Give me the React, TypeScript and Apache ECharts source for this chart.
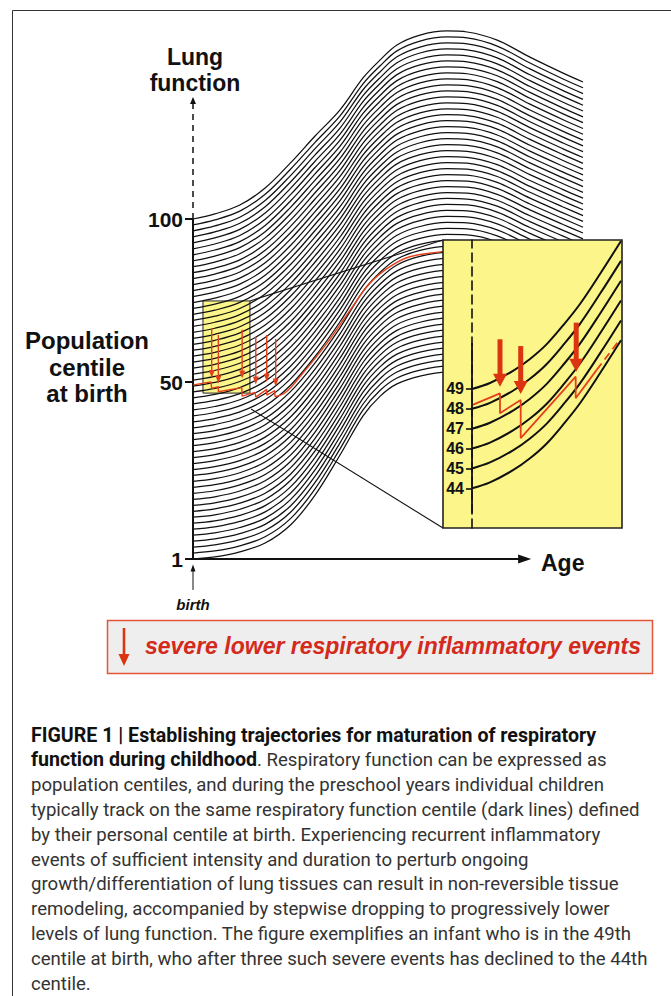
import React, { useEffect, useRef } from 'react';
import * as echarts from 'echarts';

// ---------------- data ----------------
// main chart: x = age (0..100), y = lung function (arbitrary units; 1st centile at birth = 0, 100th = 100)
const curveAges = [0, 5.6, 12, 18.5, 25, 31.3, 37.7, 43.6, 48, 52.3, 58.2, 65.1, 70.3, 78, 86.4, 94.9, 100];
const topCentileCurve = [100, 101.5, 104.1, 109.1, 116.5, 124.4, 132.1, 141.5, 146.8, 151.2, 154.1, 155.3, 155.0, 152.6, 147.6, 142.9, 140.3];
const bottomCentileCurve = [0, 0.6, 2.1, 4.7, 10, 18.8, 30.6, 42.1, 47.9, 51.5, 53.8, 55.0, 55.0, 53.2, 49.1, 45.3, 42.9];
const centileLineCount = 58;

const birthTickValues = [0, 52, 100];
const birthTickLabels = ['1', '50', '100'];

// individual trajectory (red)
const zigzagPath = [
  [0.1, 51.2], [4.6, 52.1], [4.8, 50.2], [6.5, 50.7], [6.5, 49.2], [12.5, 50.4], [12.6, 47.9],
  [15.9, 49.0], [16.1, 47.6], [18.9, 49.9], [18.9, 48.2], [21.0, 49.5], [21.0, 47.8],
];
const recoveryPath = [
  [21.0, 47.8], [23.6, 48.9], [27.4, 53.6], [34.3, 63.4], [40.3, 73.2], [45.4, 81.2],
  [50.5, 86.0], [55.6, 88.9], [63.8, 90.4], [66, 90.9],
];
const eventArrowAges = [4.8, 6.5, 12.6, 16.1, 18.9, 21.2];
const eventArrowTops = [67.9, 65.9, 67.4, 65.3, 65.9, 64.7];
const eventArrowTips = [53.2, 51.6, 53.1, 51.3, 52.1, 50.7];

const zoomBox = [2.56, 75.9, 14.6, 48.8];
const zoomLinks = [
  [14.6, 75.9, 64.1, 93.8],
  [14.9, 44.1, 64.1, 9.1],
];

const yAxisSolid = [[0, 0], [0, 100]];
const yAxisArrow = [0, 100, 0, 135.9];
const xAxisArrow = [0, 0, 86.7, 0];
const birthArrow = [0, -9.1, 0, -1.6];

// inset: x = age offset from its axis, y = centile
const insetFrame = [-29, 42, 150, 56.5];
const insetAges = [0, 18, 41, 58, 75, 93, 108, 128, 149];
const insetRise = [0, 0.3, 0.91, 1.51, 2.27, 3.32, 4.28, 5.79, 7.45];
const insetCentiles = [44, 45, 46, 47, 48, 49];
const insetPath = [
  [0, 48.19], [28, 48.78], [28, 47.78], [48.7, 48.45], [48.7, 46.52],
  [103.7, 49.62], [103.7, 48.53], [124.7, 49.96],
];
const insetPathDashed = [[124.7, 49.96], [148, 51.5]];
const insetArrows = [
  [28, 51.5, 28, 49.11],
  [48.7, 51.16, 48.7, 48.75],
  [104.2, 52.34, 104.2, 49.87],
];
const insetAxisSolid = [[0, 42.76], [0, 51.32]];

const captionLines = [
  '{b|FIGURE 1 | Establishing trajectories for maturation of respiratory}',
  '{b|function during childhood}. Respiratory function can be expressed as',
  'population centiles, and during the preschool years individual children',
  'typically track on the same respiratory function centile (dark lines) defined',
  'by their personal centile at birth. Experiencing recurrent inflammatory',
  'events of sufficient intensity and duration to perturb ongoing',
  'growth/differentiation of lung tissues can result in non-reversible tissue',
  'remodeling, accompanied by stepwise dropping to progressively lower',
  'levels of lung function. The figure exemplifies an infant who is in the 49th',
  'centile at birth, who after three such severe events has declined to the 44th',
  'centile.',
];

// ---------------- helpers ----------------
const FONT = '"Liberation Sans", Arial, Helvetica, sans-serif';
const CAPTION_FONT = 'Roboto, "Liberation Sans", sans-serif';
const RED = '#e5401c';
const ARROW_RED = '#dc3410';
const YELLOW = '#fcf68a';
const INK = '#111';

function arrowSeries(name: string, data: number[][], gridIdx: number, o: any) {
  return {
    type: 'custom',
    name,
    xAxisIndex: gridIdx,
    yAxisIndex: gridIdx,
    coordinateSystem: 'cartesian2d',
    silent: true,
    z: o.z,
    clip: false,
    encode: { x: [0, 2], y: [1, 3] },
    data,
    renderItem: (params: any, api: any) => {
      const p1 = api.coord([api.value(0), api.value(1)]);
      const p2 = api.coord([api.value(2), api.value(3)]);
      const dx = p2[0] - p1[0];
      const dy = p2[1] - p1[1];
      const len = Math.hypot(dx, dy) || 1;
      const ux = dx / len;
      const uy = dy / len;
      const bx = p2[0] - ux * o.headL;
      const by = p2[1] - uy * o.headL;
      const nx = -uy;
      const ny = ux;
      return {
        type: 'group',
        children: [
          {
            type: 'line',
            shape: { x1: p1[0], y1: p1[1], x2: bx + ux, y2: by + uy },
            style: { stroke: o.color, lineWidth: o.width, lineDash: o.dash || null },
          },
          {
            type: 'polygon',
            shape: {
              points: [
                [p2[0], p2[1]],
                [bx + (nx * o.headW) / 2, by + (ny * o.headW) / 2],
                [bx - (nx * o.headW) / 2, by - (ny * o.headW) / 2],
              ],
            },
            style: { fill: o.color },
          },
        ],
      };
    },
  };
}

function rectSeries(data: number[][], gridIdx: number, z: number, style: any) {
  return {
    type: 'custom',
    xAxisIndex: gridIdx,
    yAxisIndex: gridIdx,
    silent: true,
    clip: false,
    z,
    encode: { x: [0, 2], y: [1, 3] },
    data,
    renderItem: (params: any, api: any) => {
      const a = api.coord([api.value(0), api.value(1)]);
      const b = api.coord([api.value(2), api.value(3)]);
      return {
        type: 'rect',
        shape: { x: Math.min(a[0], b[0]), y: Math.min(a[1], b[1]), width: Math.abs(b[0] - a[0]), height: Math.abs(b[1] - a[1]) },
        style,
      };
    },
  };
}

function segSeries(data: number[][], gridIdx: number, color: string, width: number, z: number, smooth: number | boolean = false, type: any = 'solid') {
  return {
    type: 'line',
    xAxisIndex: gridIdx,
    yAxisIndex: gridIdx,
    data,
    smooth,
    symbol: 'none',
    showSymbol: false,
    silent: true,
    z,
    lineStyle: { color, width, type },
  };
}

export default function App() {
  const ref = useRef<HTMLDivElement>(null);

  useEffect(() => {
    document.body.style.margin = '0';
    if (!ref.current) return;
    const chart = echarts.init(ref.current, null, { renderer: 'svg' });

    const series: any[] = [];

    // zoomed region box (under the centile lines)
    series.push(rectSeries([zoomBox], 0, 1, { fill: YELLOW, stroke: '#222', lineWidth: 1 }));

    // centile lines: family between the lowest and the highest centile curve
    for (let i = 0; i < centileLineCount; i++) {
      const w = i / (centileLineCount - 1);
      const pts = curveAges.map((a, k) => [a, bottomCentileCurve[k] + w * (topCentileCurve[k] - bottomCentileCurve[k])]);
      series.push(segSeries(pts, 0, INK, 1.25, 2, 0.35));
    }

    // axes drawn as marks
    series.push(segSeries(yAxisSolid, 0, INK, 2, 3));
    series.push(arrowSeries('yArrow', [yAxisArrow], 0, { color: INK, width: 1.5, headW: 6, headL: 7, dash: [6, 5], z: 3 }));
    series.push(arrowSeries('xArrow', [xAxisArrow], 0, { color: INK, width: 2, headW: 9, headL: 13, z: 3 }));
    series.push(arrowSeries('birthArrow', [birthArrow], 0, { color: INK, width: 1, headW: 5, headL: 7, z: 3 }));

    // zoom connector lines
    zoomLinks.forEach((l) => series.push(segSeries([[l[0], l[1]], [l[2], l[3]]], 0, INK, 1.1, 3)));

    // red trajectory (main)
    series.push(segSeries(zigzagPath, 0, RED, 1.4, 4));
    series.push(segSeries(recoveryPath, 0, RED, 1.4, 4, 0.4));
    series.push(
      arrowSeries(
        'events',
        eventArrowAges.map((a, i) => [a, eventArrowTops[i], a, eventArrowTips[i]]),
        0,
        { color: RED, width: 1.4, headW: 6, headL: 8, z: 4 }
      )
    );

    // inset background (covers the main chart)
    series.push(rectSeries([insetFrame], 1, 5, { fill: YELLOW, stroke: '#222', lineWidth: 1.6 }));

    insetCentiles.forEach((c) => {
      const pts = insetAges.map((a, k) => [a, c + insetRise[k]]);
      series.push(segSeries(pts, 1, INK, 2, 6, 0.35));
    });
    series.push(segSeries(insetAxisSolid, 1, INK, 1.8, 11));
    series.push(segSeries(insetPath, 1, RED, 1.8, 7));
    series.push(segSeries(insetPathDashed, 1, RED, 1.8, 7, false, [8, 5]));
    series.push(arrowSeries('insetEvents', insetArrows, 1, { color: ARROW_RED, width: 5, headW: 14, headL: 13, z: 8 }));

    const g: any[] = [];
    g.push({ type: 'rect', shape: { x: 12.5, y: 10.5, width: 700, height: 1000 }, style: { fill: 'none', stroke: '#333', lineWidth: 1 }, z: 0 });
    g.push({ type: 'text', x: 195, y: 70, style: { text: 'Lung\nfunction', font: `bold 23px ${FONT}`, fill: INK, align: 'center', verticalAlign: 'middle', lineHeight: 26 } });
    g.push({ type: 'text', x: 87, y: 367, style: { text: 'Population\ncentile\nat birth', font: `bold 24px ${FONT}`, fill: INK, align: 'center', verticalAlign: 'middle', lineHeight: 26.5 } });
    g.push({ type: 'text', x: 541, y: 563, style: { text: 'Age', font: `bold 23px ${FONT}`, fill: INK, align: 'left', verticalAlign: 'middle' } });
    g.push({ type: 'text', x: 193, y: 604, style: { text: 'birth', font: `italic bold 15px ${FONT}`, fill: INK, align: 'center', verticalAlign: 'middle' } });

    // legend box
    g.push({ type: 'rect', shape: { x: 107.5, y: 620.5, width: 545, height: 53 }, style: { fill: '#eeeeee', stroke: '#e6553a', lineWidth: 1.5 } });
    g.push({ type: 'line', shape: { x1: 124, y1: 628, x2: 124, y2: 655 }, style: { stroke: ARROW_RED, lineWidth: 2.6 } });
    g.push({ type: 'polygon', shape: { points: [[118.5, 654], [129.5, 654], [124, 666]] }, style: { fill: ARROW_RED } });
    g.push({ type: 'text', x: 145, y: 646, style: { text: 'severe lower respiratory inflammatory events', font: `italic bold 23px ${FONT}`, fill: '#d42a1c', align: 'left', verticalAlign: 'middle' } });

    // caption
    captionLines.forEach((line, i) => {
      g.push({
        type: 'text',
        x: 31,
        y: 735 + i * 24.9,
        style: {
          text: line,
          fontFamily: CAPTION_FONT,
          fontSize: 18.6,
          fill: '#333',
          align: 'left',
          verticalAlign: 'middle',
          rich: { b: { fontFamily: CAPTION_FONT, fontSize: 19.6, fontWeight: 'bold', fill: '#111' } },
        },
      });
    });

    chart.setOption({
      animation: false,
      backgroundColor: '#fff',
      grid: [
        { left: 193, top: 15, right: 88, bottom: 437 },
        { left: 472, top: 240, right: 49, bottom: 468 },
      ],
      xAxis: [
        { gridIndex: 0, type: 'value', min: 0, max: 100, show: false },
        { gridIndex: 1, type: 'value', min: 0, max: 150, show: false },
      ],
      yAxis: [
        {
          gridIndex: 0,
          type: 'value',
          min: 0,
          max: 160,
          axisLine: { show: false },
          splitLine: { show: false },
          axisTick: { show: true, customValues: birthTickValues, length: 8, lineStyle: { color: INK, width: 2 } },
          axisLabel: {
            customValues: birthTickValues,
            formatter: (v: number) => birthTickLabels[birthTickValues.indexOf(v)] ?? '',
            fontFamily: FONT,
            fontWeight: 'bold',
            fontSize: 21,
            color: INK,
            margin: 10,
          },
          z: 3,
        },
        {
          gridIndex: 1,
          type: 'value',
          min: 42,
          max: 56.5,
          axisLine: { show: true, lineStyle: { color: INK, width: 1.6, type: [9, 5] } },
          splitLine: { show: false },
          axisTick: { show: true, customValues: insetCentiles, length: 6, lineStyle: { color: INK, width: 1.6 } },
          axisLabel: {
            customValues: insetCentiles,
            fontFamily: FONT,
            fontWeight: 'bold',
            fontSize: 16,
            color: INK,
            margin: 8,
          },
          z: 10,
        },
      ],
      graphic: g,
      series,
    });

    return () => chart.dispose();
  }, []);

  return <div ref={ref} style={{ width: 671, height: 996 }} />;
}
